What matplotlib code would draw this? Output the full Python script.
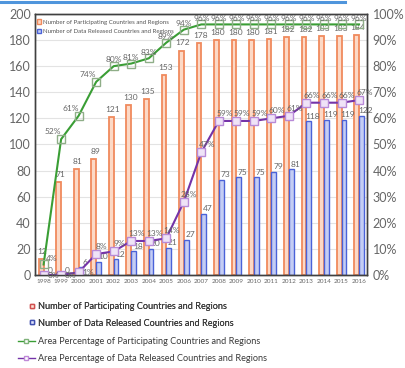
import matplotlib.pyplot as plt
from matplotlib import font_manager
from matplotlib.lines import Line2D
from matplotlib.patches import Patch
import numpy as np

years = [str(y) for y in range(1998, 2017)]
participating = [12, 71, 81, 89, 121, 130, 135, 153, 172, 178,
                 180, 180, 180, 181, 182, 182, 183, 183, 184]
released = [0, 0, 6, 10, 12, 18, 20, 21, 27, 47,
            73, 75, 75, 79, 81, 118, 119, 119, 122]
part_pct = [4, 52, 61, 74, 80, 81, 83, 89, 94, 96,
            96, 96, 96, 96, 96, 96, 96, 96, 96]
rel_pct = [0, 0, 1, 8, 9, 13, 13, 14, 28, 47,
           59, 59, 59, 60, 61, 66, 66, 66, 67]

names = {f.name for f in font_manager.fontManager.ttflist}
narrow = [n for n in ("Liberation Sans Narrow", "Lato") if n in names]
plt.rcParams["font.family"] = narrow + ["DejaVu Sans"]

GRAY = "#666666"
ORANGE_E, ORANGE_F = "#f08a5d", "#fcd9c6"
BLUE_E, BLUE_F = "#4a62d8", "#c4cdf4"
GREEN = "#3a9e35"
PURPLE = "#7433a8"

fig = plt.figure(figsize=(4.05, 3.68), dpi=100)
ax = fig.add_axes([0.086, 0.253, 0.82, 0.709])
ax2 = ax.twinx()

x = np.arange(len(years))
w = 0.27
ax.bar(x - w / 2, participating, w, color=ORANGE_F, edgecolor=ORANGE_E, linewidth=1.3)
ax.bar(x + w / 2, released, w, color=BLUE_F, edgecolor=BLUE_E, linewidth=1.0)

for i, v in enumerate(participating):
    ax.annotate(str(v), (x[i] - w / 2, v), xytext=(1, 3), textcoords="offset points",
                ha="center", va="bottom", fontsize=6, color=GRAY)
for i, v in enumerate(released):
    ax.annotate(str(v), (x[i] + w / 2, v), xytext=(3, 1), textcoords="offset points",
                ha="center", va="bottom", fontsize=6, color=GRAY)

ax.set_ylim(0, 200)
ax.set_yticks(range(0, 201, 20))
ax.set_xlim(-0.5, 18.45)
ax.set_xticks(x)
ax.set_xticklabels(years, fontsize=4.6, color=GRAY)
ax.tick_params(axis="both", length=0, pad=3)
ax.tick_params(axis="y", labelsize=9, colors=GRAY)
ax.yaxis.grid(True, color="#e3e3e3", linewidth=0.8)
ax.set_axisbelow(True)

ax2.plot(x, part_pct, color=GREEN, linewidth=1.5, marker="s", markersize=5.5,
         mfc="none", mec="#8fae88", mew=1.0)
ax2.plot(x, rel_pct, color=PURPLE, linewidth=1.5, marker="s", markersize=5.5,
         mfc="#efe3f7", mec="#b88ad8", mew=1.0)

for i, v in enumerate(part_pct):
    off = (0, 2) if i > 3 else (-6, 3)
    if i == 0:
        off = (6, 2)
    ax2.annotate(f"{v}%", (x[i], v), xytext=off, textcoords="offset points",
                 ha="center", va="bottom", fontsize=6, color=GRAY)
for i, v in enumerate(rel_pct):
    off = (4, 3)
    if i < 3:
        off = (7, -3)
    ax2.annotate(f"{v}%", (x[i], v), xytext=off, textcoords="offset points",
                 ha="center", va="bottom", fontsize=6, color=GRAY)

ax2.set_ylim(0, 100)
ax2.set_yticks(range(0, 101, 10))
ax2.set_yticklabels([f"{t}%" for t in range(0, 101, 10)])
ax2.tick_params(axis="y", length=0, pad=4, labelsize=9, colors=GRAY)

for a in (ax, ax2):
    for s in a.spines.values():
        s.set_color("#404040")
        s.set_linewidth(1.0)

# small legend inside the plot area
inner = [Patch(facecolor=ORANGE_F, edgecolor=ORANGE_E, label="Number of Participating Countries and Regions"),
         Patch(facecolor=BLUE_F, edgecolor=BLUE_E, label="Number of Data Released Countries and Regions")]
ax.legend(handles=inner, loc="upper left", bbox_to_anchor=(-0.01, 1.0), frameon=False,
          fontsize=4.4, handlelength=0.7, handleheight=0.7, handletextpad=0.2,
          labelspacing=0.7, labelcolor="#555555")

# legend below the chart
bars_leg = fig.legend(handles=[
    Line2D([], [], linestyle="none", marker="s", markersize=3.5, mfc="#fbe3d8", mec="#d05050",
           label="Number of Participating Countries and Regions"),
    Line2D([], [], linestyle="none", marker="s", markersize=3.5, mfc="#e0e4fb", mec="#4050b0",
           label="Number of Data Released Countries and Regions")],
    loc="upper left", bbox_to_anchor=(0.07, 0.18), frameon=False, fontsize=6.6,
    handlelength=0.7, handletextpad=0.3, labelspacing=0.85, labelcolor="#3a3a3a",
    borderpad=0, borderaxespad=0)
fig.add_artist(bars_leg)
fig.legend(handles=[
    Line2D([], [], color=GREEN, linewidth=1, marker="s", markersize=3.5, mfc="white",
           mec="#7fb27a", markevery=[0, 1], label="Area Percentage of Participating Countries and Regions"),
    Line2D([], [], color=PURPLE, linewidth=1, marker="s", markersize=3.5, mfc="white",
           mec="#c08ad8", markevery=[0, 1], label="Area Percentage of Data Released Countries and Regions")],
    loc="upper left", bbox_to_anchor=(0.045, 0.083), frameon=False, fontsize=6.6,
    handlelength=1.8, handletextpad=0.4, labelspacing=0.85, labelcolor="#3a3a3a",
    borderpad=0, borderaxespad=0)

fig.add_artist(Line2D([0, 0.852], [0.995, 0.995], color="#4f95dc", linewidth=2.2,
                      transform=fig.transFigure))

fig.savefig("out.png", dpi=100)
